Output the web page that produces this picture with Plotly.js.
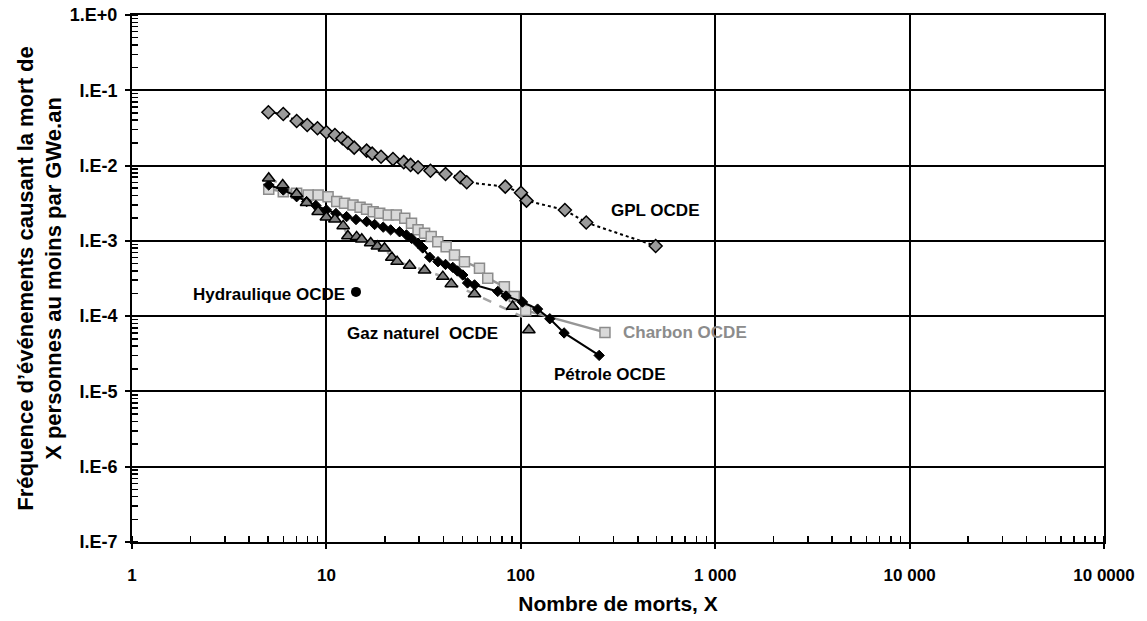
<!DOCTYPE html>
<html>
<head>
<meta charset="utf-8">
<script src="https://cdn.plot.ly/plotly-3.0.1.min.js"></script>
<style>html,body{margin:0;padding:0;background:#fff;}#chart{width:1147px;height:621px;}</style>
</head>
<body>
<div id="chart"></div>
<script>
// ---- Data ----
const gplX = [5.03, 6.0, 7.03, 7.97, 9.0, 10.0, 11.06, 12.1, 12.9, 13.9, 16.1, 17.2, 19.1, 22.0, 25.0, 27.1, 29.6, 34.3, 41.0, 48.8, 52.7, 83.2, 100.2, 107, 168.6, 217, 494];
const gplY = [0.0510, 0.0484, 0.0391, 0.0346, 0.0313, 0.0277, 0.0255, 0.0231, 0.0201, 0.0173, 0.0158, 0.0144, 0.0131, 0.0122, 0.0111, 0.0102, 0.0095, 0.00855, 0.00773, 0.0070, 0.0060, 0.00525, 0.00436, 0.00342, 0.00257, 0.00175, 0.000855];

const oilX = [5.05, 6.0, 7.03, 7.91, 8.83, 10.0, 11.2, 12.7, 14.2, 16.1, 17.7, 19.6, 21.4, 23.8, 25.8, 27.4, 29.6, 31.3, 34.0, 37.5, 41.0, 44.7, 47.2, 50.3, 53.2, 57.8, 76.1, 84, 102, 122, 141, 167, 253];
const oilY = [0.00552, 0.00474, 0.00386, 0.00332, 0.00295, 0.00257, 0.00231, 0.00210, 0.00192, 0.00180, 0.00165, 0.00152, 0.00140, 0.00132, 0.00120, 0.00108, 0.00093, 0.000805, 0.000606, 0.000529, 0.000486, 0.000444, 0.000398, 0.000352, 0.000276, 0.000260, 0.000213, 0.000185, 0.000154, 0.000124, 0.0000923, 0.0000598, 0.0000301];

const coalX = [5.05, 6.0, 7.03, 8.06, 9.07, 10.2, 11.3, 12.4, 13.7, 14.9, 16.1, 17.4, 18.8, 20.8, 22.9, 25.3, 27.4, 29.6, 32.0, 34.6, 37.4, 41.3, 45.6, 51.3, 61.3, 67.6, 82.3, 92.6, 106, 271];
const coalY = [0.00484, 0.00450, 0.00429, 0.00407, 0.00407, 0.00386, 0.00332, 0.00316, 0.00300, 0.00279, 0.00263, 0.00244, 0.00233, 0.00221, 0.00221, 0.00200, 0.00171, 0.00140, 0.00126, 0.00114, 0.000976, 0.000837, 0.000650, 0.000529, 0.000433, 0.000319, 0.000246, 0.000183, 0.000119, 0.0000608];

const gasX = [5.05, 5.96, 7.03, 7.91, 9.07, 10.0, 11.06, 12.2, 12.9, 14.3, 15.2, 16.9, 18.3, 19.9, 21.7, 23.1, 26.8, 32.0, 39.7, 43.9, 57.8, 90.8, 110];
const gasY = [0.00678, 0.00552, 0.00420, 0.00321, 0.00244, 0.00206, 0.00194, 0.00158, 0.00116, 0.00113, 0.00105, 0.000937, 0.000848, 0.000798, 0.000602, 0.000530, 0.000471, 0.000407, 0.000335, 0.000268, 0.000197, 0.000134, 0.0000656];
// dashed gas curve: follows the triangles then ends here
const gasLineCount = 21;
const gasLineEndX = 102;
const gasLineEndY = 0.0000976;

const hydroX = [14.2];
const hydroY = [0.00021];

const xTickVals = [1, 10, 100, 1000, 10000, 100000];
const xTickText = ['1', '10', '100', '1 000', '10 000', '10 0000'];
const yTickVals = [1, 1e-1, 1e-2, 1e-3, 1e-4, 1e-5, 1e-6, 1e-7];
const yTickText = ['1.E+0', 'I.E-1', 'I.E-2', 'I.E-3', 'I.E-4', 'I.E-5', 'I.E-6', 'I.E-7'];

const labels = ['GPL OCDE', 'Hydraulique OCDE', 'Gaz naturel  OCDE', 'Charbon OCDE', 'Pétrole OCDE'];
const labelX = [284, 2.02, 12.4, 327, 145];
const labelY = [0.00257, 0.000195, 0.0000593, 0.0000604, 0.0000166];
const labelColors = ['#000000', '#000000', '#000000', '#8c8c8c', '#000000'];

// ---- Traces ----
const FONT = 'Liberation Sans, Arial, sans-serif';
const gasLineX = gasX.slice(0, gasLineCount).concat([gasLineEndX]);
const gasLineY = gasY.slice(0, gasLineCount).concat([gasLineEndY]);

const traces = [
  {x: gasLineX, y: gasLineY, mode: 'lines', line: {color: '#a6a6a6', width: 2.5, dash: 'dash'}, hoverinfo: 'skip'},
  {x: coalX, y: coalY, mode: 'lines+markers', line: {color: '#969696', width: 2.5},
   marker: {symbol: 'square', size: 10, color: '#d9d9d9', line: {color: '#8c8c8c', width: 1.5}}},
  {x: oilX, y: oilY, mode: 'lines+markers', line: {color: '#000000', width: 2},
   marker: {symbol: 'diamond', size: 8, color: '#000000', line: {color: '#000000', width: 1}}},
  {x: gasX, y: gasY, mode: 'markers',
   marker: {symbol: 'triangle-up', size: 11, color: '#7f7f7f', line: {color: '#000000', width: 1.5}}},
  {x: gplX, y: gplY, mode: 'lines+markers', line: {color: '#000000', width: 2, dash: 'dot'},
   marker: {symbol: 'diamond', size: 10, color: '#9a9a9a', line: {color: '#000000', width: 1.5}}},
  {x: hydroX, y: hydroY, mode: 'markers', marker: {symbol: 'circle', size: 10, color: '#000000'}}
];

const annotations = labels.map((t, i) => ({
  text: t, x: Math.log10(labelX[i]), y: Math.log10(labelY[i]), xref: 'x', yref: 'y',
  xanchor: 'left', yanchor: 'middle', showarrow: false,
  font: {family: FONT, size: 17, color: labelColors[i], weight: 'bold'}
}));

const layout = {
  width: 1147, height: 621,
  margin: {l: 131.5, r: 43, t: 15, b: 79},
  paper_bgcolor: '#ffffff', plot_bgcolor: '#ffffff',
  showlegend: false,
  font: {family: FONT, color: '#000000'},
  xaxis: {
    type: 'log', range: [0, 5],
    tickvals: xTickVals, ticktext: xTickText,
    tickfont: {family: FONT, size: 17, weight: 'bold'},
    ticklabelstandoff: 12,
    showgrid: true, gridcolor: '#000000', gridwidth: 2,
    showline: true, linecolor: '#000000', linewidth: 2, mirror: true,
    ticks: 'outside', ticklen: 5, tickwidth: 2, tickcolor: '#000000',
    minor: {ticks: 'inside', ticklen: 6, tickwidth: 1.5, tickcolor: '#000000', dtick: 'D1', showgrid: false},
    zeroline: false,
    title: {text: 'Nombre de morts, X', font: {family: FONT, size: 21, weight: 'bold'}, standoff: 12}
  },
  yaxis: {
    type: 'log', range: [-7, 0],
    tickvals: yTickVals, ticktext: yTickText,
    tickfont: {family: FONT, size: 18, weight: 'bold'},
    ticklabelstandoff: 4,
    showgrid: true, gridcolor: '#000000', gridwidth: 2,
    showline: true, linecolor: '#000000', linewidth: 2, mirror: true,
    ticks: 'outside', ticklen: 5, tickwidth: 2, tickcolor: '#000000',
    minor: {ticks: 'inside', ticklen: 6, tickwidth: 1.5, tickcolor: '#000000', dtick: 'D1', showgrid: false},
    zeroline: false,
    title: {text: 'Fréquence d\u2019événements causant la mort de<br>X personnes au moins par GWe.an',
            font: {family: FONT, size: 22, weight: 'bold'}, standoff: 2}
  },
  annotations: annotations
};

Plotly.newPlot('chart', traces, layout, {displayModeBar: false, staticPlot: true});
</script>
</body>
</html>
